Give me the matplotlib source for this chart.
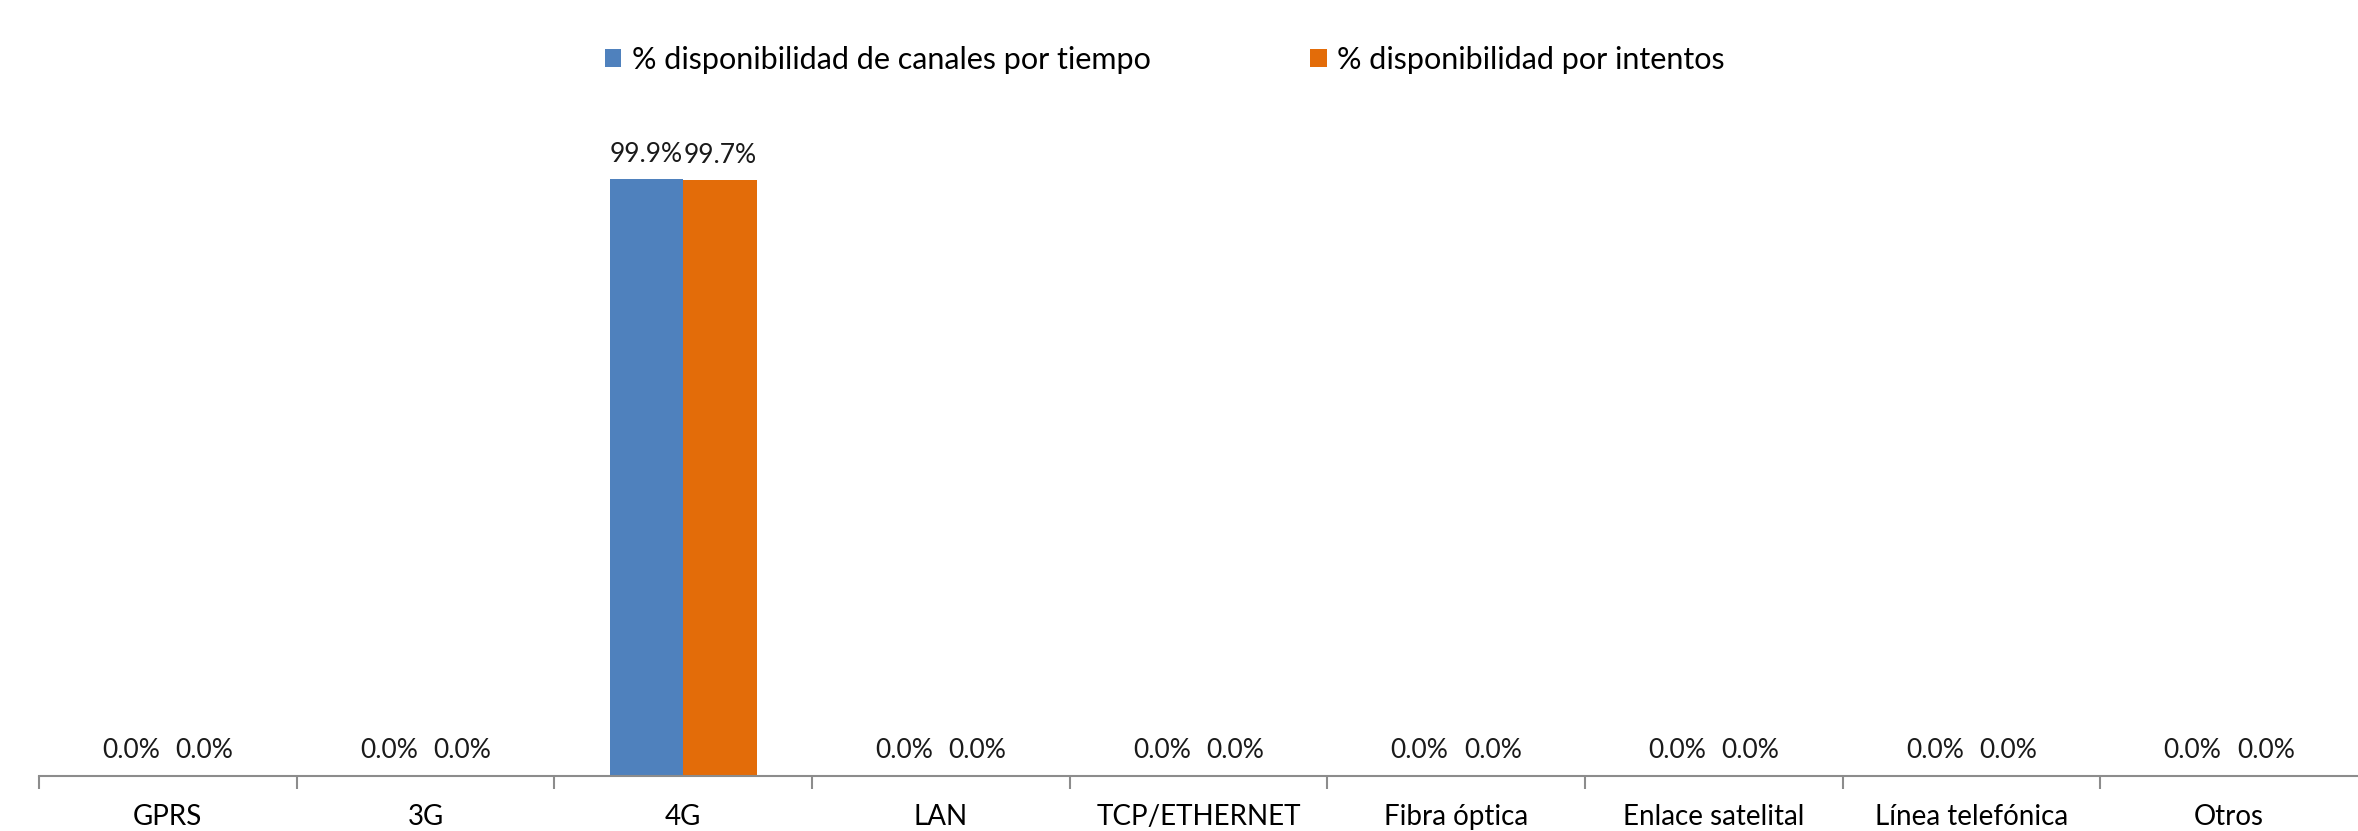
import matplotlib
matplotlib.use('Agg')
from matplotlib import pyplot as plt
import numpy as np

categories = ['GPRS', '3G', '4G', 'LAN', 'TCP/ETHERNET', 'Fibra óptica',
              'Enlace satelital', 'Línea telefónica', 'Otros']
por_tiempo = [0.0, 0.0, 99.9, 0.0, 0.0, 0.0, 0.0, 0.0, 0.0]
por_intentos = [0.0, 0.0, 99.7, 0.0, 0.0, 0.0, 0.0, 0.0, 0.0]
series_names = ['% disponibilidad de canales por tiempo', '% disponibilidad por intentos']

plt.rcParams['font.family'] = ['Lato', 'DejaVu Sans']

fig = plt.figure(figsize=(23.58, 8.31), dpi=100)
ax = fig.add_axes([39 / 2358, 55 / 831, 1 - 39 / 2358, 717 / 831])

x = np.arange(len(categories))
w = 0.285
b1 = ax.bar(x - w / 2, por_tiempo, w, color='#4F81BD', label=series_names[0])
b2 = ax.bar(x + w / 2, por_intentos, w, color='#E36C09', label=series_names[1])

for bars in (b1, b2):
	for r in bars:
		ax.annotate('{:.1f}%'.format(r.get_height()),
					(r.get_x() + r.get_width() / 2, r.get_height()),
					xytext=(0, 9), textcoords='offset points',
					ha='center', va='bottom', fontsize=19, color='#1a1a1a')

ax.set_xlim(-0.5, len(categories) - 0.5)
ax.set_ylim(0, 120)
ax.set_xticks(x)
ax.set_xticklabels(categories, fontsize=20)
ax.set_xticks(np.arange(len(categories)) - 0.5, minor=True)
ax.tick_params(axis='x', which='major', length=0, pad=20)
ax.tick_params(axis='x', which='minor', length=9, width=1.5, color='#8c8c8c')
ax.set_yticks([])
for s in ['top', 'right', 'left']:
	ax.spines[s].set_visible(False)
ax.spines['bottom'].set_color('#8c8c8c')
ax.spines['bottom'].set_linewidth(1.5)

fig.legend(loc='center', bbox_to_anchor=(0.494, 1 - 60 / 831), ncol=2,
		   frameon=False, fontsize=22, handlelength=0.55, handleheight=0.55,
		   handletextpad=0.35, columnspacing=5.2)

fig.savefig('out.png', dpi=100)
